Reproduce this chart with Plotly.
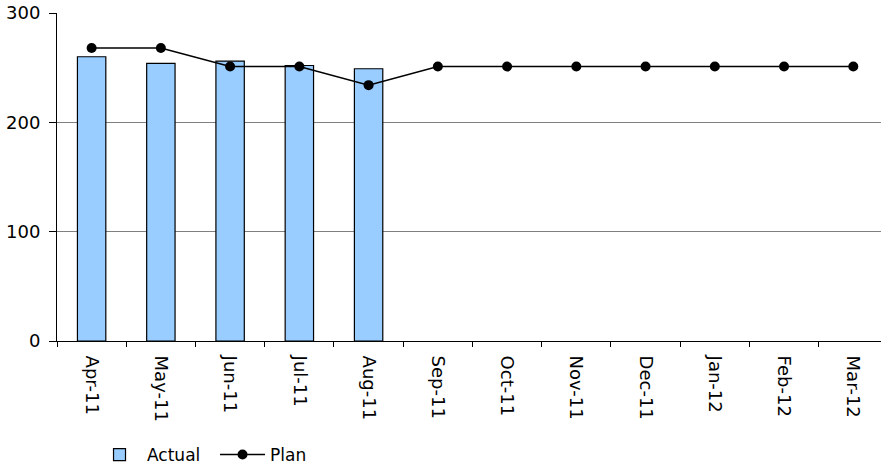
import plotly.graph_objects as go

months = ["Apr-11", "May-11", "Jun-11", "Jul-11", "Aug-11", "Sep-11",
          "Oct-11", "Nov-11", "Dec-11", "Jan-12", "Feb-12", "Mar-12"]
actual = [260, 254, 256, 252, 249, None, None, None, None, None, None, None]
plan = [268, 268, 251, 251, 234, 251, 251, 251, 251, 251, 251, 251]
y_ticks = [0, 100, 200, 300]

FONT = "DejaVu Sans"

fig = go.Figure()
fig.add_trace(go.Bar(
    x=months, y=actual, name="Actual",
    marker=dict(color="#99CCFF", line=dict(color="black", width=1.2)),
))
fig.add_trace(go.Scatter(
    x=months, y=plan, name="Plan", mode="lines+markers",
    line=dict(color="black", width=1.6),
    marker=dict(color="black", size=10),
))

fig.update_layout(
    width=881, height=473,
    margin=dict(l=57, r=0, t=13, b=126),
    paper_bgcolor="white", plot_bgcolor="white",
    font=dict(family=FONT, size=17, color="black"),
    bargap=0.59,
    showlegend=True,
    legend=dict(orientation="h", x=0.0425, y=-0.348, xanchor="left", yanchor="middle",
                itemwidth=45, entrywidth=63, entrywidthmode="pixels",
                font=dict(family=FONT, size=17), traceorder="normal"),
    xaxis=dict(
        type="category", range=[-0.5, 11.4], automargin=False,
        tickangle=90, ticks="outside", tickson="boundaries", ticklen=5,
        tickcolor="black", showline=True, linecolor="black", linewidth=1,
        showgrid=False, ticklabelstandoff=10, tickfont=dict(size=18),
    ),
    yaxis=dict(
        range=[0, 300], tickvals=y_ticks, ticks="outside", ticklen=7, automargin=False,
        tickcolor="black", showline=True, linecolor="black", linewidth=1,
        showgrid=True, gridcolor="#808080", gridwidth=1, zeroline=False,
        ticklabelstandoff=5, tickfont=dict(size=18),
    ),
)

fig.write_html(
    "out.html",
    config={"displayModeBar": False},
    post_script=(
        "document.body.style.margin='0';"
        "document.body.style.height='473px';"
        "document.body.style.overflow='hidden';"
        "document.documentElement.style.overflow='hidden';"
    ),
)
